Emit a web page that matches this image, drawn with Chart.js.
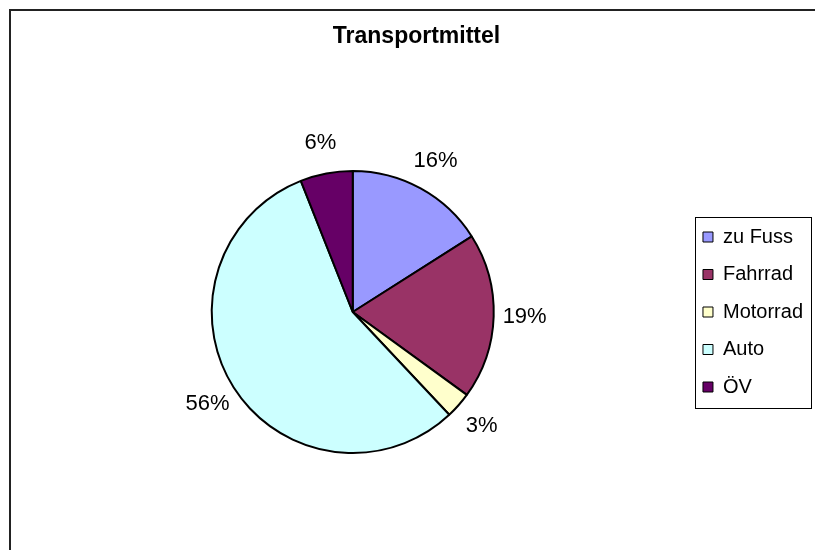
<!DOCTYPE html>
<html>
<head>
<meta charset="utf-8">
<title>Transportmittel</title>
<script src="https://cdn.jsdelivr.net/npm/chart.js@4.4.1/dist/chart.umd.min.js"></script>
<style>
  html, body { margin: 0; padding: 0; background: #fff; overflow: hidden; }
  #wrap { width: 815px; height: 550px; }
</style>
</head>
<body>
<div id="wrap"><canvas id="pie" width="815" height="550"></canvas></div>
<script>
const categories = ["zu Fuss", "Fahrrad", "Motorrad", "Auto", "ÖV"];
const shares = [16, 19, 3, 56, 6];
const sliceColors = ["#9999FF", "#993366", "#FFFFCC", "#CCFFFF", "#660066"];

const FONT = "'Liberation Sans', Arial, Helvetica, sans-serif";
const LEGEND_PAD = 17.5;
const LEGEND_FONT = 20;

// keep the legend column vertically centred on the pie
const legendPlacement = {
  id: "legendPlacement",
  afterLayout(chart) {
    const lg = chart.legend;
    if (!lg) return;
    lg.top = chart.chartArea.top;
    lg.bottom = chart.chartArea.bottom;
    lg.height = lg.bottom - lg.top;
  }
};

// frame around the whole chart + box around the legend
const framePlugin = {
  id: "frame",
  beforeDraw(chart) {
    const ctx = chart.ctx;
    ctx.save();
    ctx.fillStyle = "#fff";
    ctx.fillRect(0, 0, chart.width, chart.height);
    ctx.strokeStyle = "#222";
    ctx.lineWidth = 2;
    ctx.strokeRect(10, 10, chart.width + 20, chart.height + 20);
    ctx.restore();
  },
  afterDraw(chart) {
    const lg = chart.legend;
    if (!lg || !lg.columnSizes || !lg.columnSizes.length) return;
    const colH = lg.columnSizes[0].height;
    const startY = (lg.top + LEGEND_PAD + lg.bottom - colH) / 2;
    const n = chart.data.labels.length;
    const firstMid = startY + LEGEND_FONT / 2;
    const lastMid = firstMid + (n - 1) * (LEGEND_FONT + LEGEND_PAD);
    const x0 = lg.left + LEGEND_PAD - 8;
    const x1 = lg.right - 2;
    const y0 = firstMid - 20;
    const y1 = lastMid + 21;
    const ctx = chart.ctx;
    ctx.save();
    ctx.strokeStyle = "#000";
    ctx.lineWidth = 1;
    ctx.strokeRect(Math.round(x0) + 0.5, Math.round(y0) + 0.5, Math.round(x1 - x0), Math.round(y1 - y0));
    ctx.restore();
  }
};

// percentage labels just outside each slice
const outsideLabels = {
  id: "outsideLabels",
  afterDatasetsDraw(chart) {
    const ctx = chart.ctx;
    const meta = chart.getDatasetMeta(0);
    const data = chart.data.datasets[0].data;
    const total = data.reduce((a, b) => a + b, 0);
    ctx.save();
    ctx.font = "22px " + FONT;
    ctx.fillStyle = "#000";
    ctx.textAlign = "center";
    ctx.textBaseline = "middle";
    meta.data.forEach((arc, i) => {
      const p = arc.getProps(["x", "y", "startAngle", "endAngle", "outerRadius"], true);
      const mid = (p.startAngle + p.endAngle) / 2;
      const r = p.outerRadius + 31;
      const txt = Math.round(data[i] / total * 100) + "%";
      ctx.fillText(txt, p.x + Math.cos(mid) * r, p.y + Math.sin(mid) * r);
    });
    ctx.restore();
  }
};

new Chart(document.getElementById("pie"), {
  type: "pie",
  data: {
    labels: categories,
    datasets: [{
      data: shares,
      backgroundColor: sliceColors,
      borderColor: "#000",
      borderWidth: 2
    }]
  },
  options: {
    responsive: false,
    animation: false,
    events: [],
    layout: { padding: { left: 20, right: 2, top: 0, bottom: 96 } },
    plugins: {
      title: {
        display: true,
        text: "Transportmittel",
        color: "#000",
        font: { family: FONT, size: 23, weight: "bold" },
        padding: { top: 23, bottom: 119.4 }
      },
      legend: {
        position: "right",
        align: "center",
        labels: {
          color: "#000",
          font: { family: FONT, size: LEGEND_FONT },
          boxWidth: 10,
          boxHeight: 10,
          padding: LEGEND_PAD,
          generateLabels(chart) {
            const ds = chart.data.datasets[0];
            return chart.data.labels.map((label, i) => ({
              text: label,
              fillStyle: ds.backgroundColor[i],
              strokeStyle: "#000",
              lineWidth: 1,
              fontColor: "#000",
              index: i,
              hidden: false
            }));
          }
        }
      },
      tooltip: { enabled: false }
    }
  },
  plugins: [legendPlacement, framePlugin, outsideLabels]
});
</script>
</body>
</html>
